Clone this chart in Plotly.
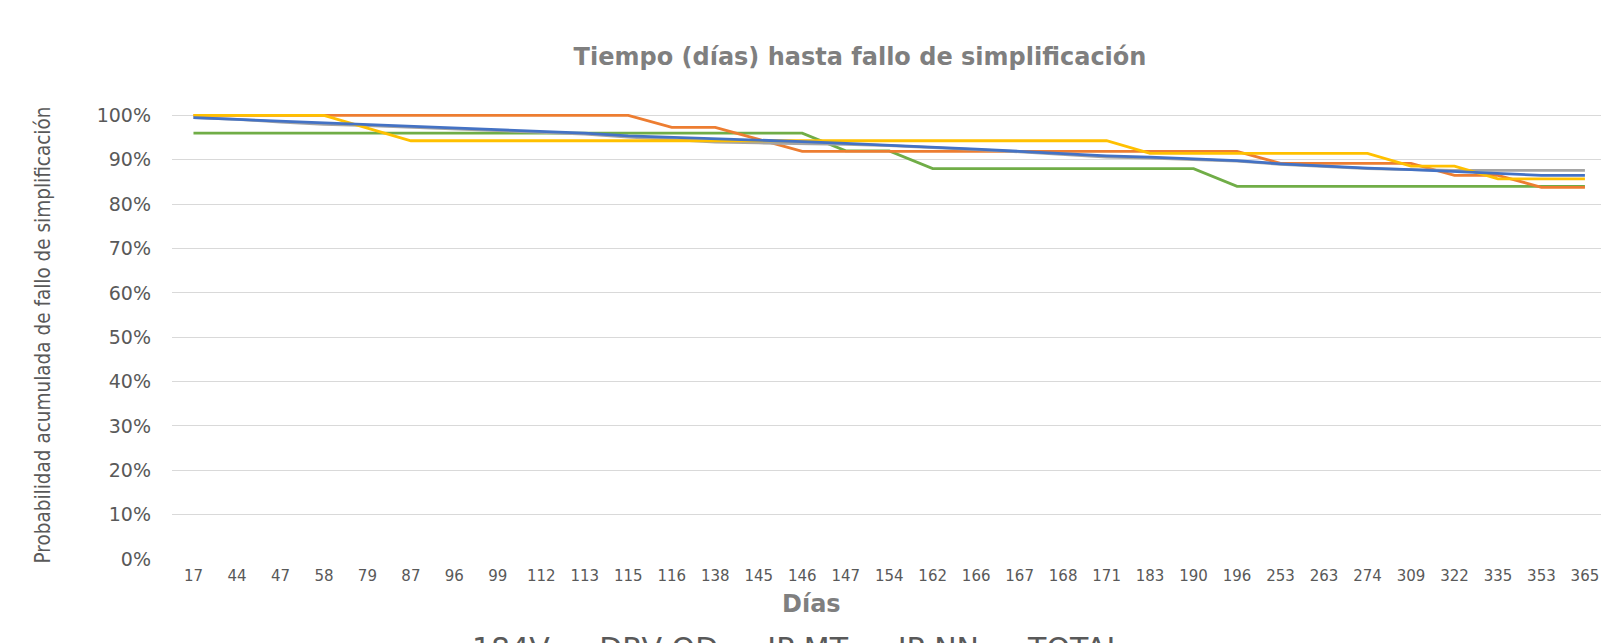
import plotly.graph_objects as go

dias = ["17", "44", "47", "58", "79", "87", "96", "99", "112", "113", "115", "116",
        "138", "145", "146", "147", "154", "162", "166", "167", "168", "171", "183",
        "190", "196", "253", "263", "274", "309", "322", "335", "353", "365"]

v184 = [0.96] * 15 + [0.92] * 2 + [0.88] * 7 + [0.84] * 9

drv_qd = [1.0] * 11 + [0.973, 0.973, 0.946] + [0.919] * 11 + [0.892] * 4 + [0.865] * 2 + [0.838] * 2

ip_mt = [0.995, 0.991, 0.985, 0.980, 0.977, 0.973, 0.970, 0.966, 0.962, 0.958, 0.951,
         0.946, 0.940, 0.938, 0.937, 0.935, 0.932, 0.928, 0.923, 0.918, 0.912, 0.906,
         0.904, 0.900, 0.897, 0.890, 0.885, 0.880, 0.878, 0.876, 0.876, 0.876, 0.876]

ip_nn = [1.0] * 4 + [0.9714] + [0.9429] * 17 + [0.9143] * 6 + [0.8857] * 2 + [0.8571] * 3

total = [0.995, 0.991, 0.987, 0.983, 0.979, 0.976, 0.972, 0.968, 0.964, 0.960, 0.954,
         0.951, 0.948, 0.945, 0.941, 0.937, 0.933, 0.929, 0.924, 0.919, 0.914, 0.909,
         0.906, 0.902, 0.898, 0.891, 0.886, 0.881, 0.878, 0.874, 0.870, 0.865, 0.865]

series = [
    ("184V", v184, "#70AD47"),
    ("DRV QD", drv_qd, "#ED7D31"),
    ("IP MT", ip_mt, "#A5A5A5"),
    ("IP NN", ip_nn, "#FFC000"),
    ("TOTAL", total, "#4472C4"),
]

fig = go.Figure()
for name, vals, color in series:
    fig.add_trace(go.Scatter(x=dias, y=vals, mode="lines", name=name,
                             line=dict(color=color, width=2.8)))

W, H = 1601, 643
L, R, T, B = 172, 0, 111, 84

fig.update_layout(
    width=W, height=H,
    margin=dict(l=L, r=R, t=T, b=B, autoexpand=False),
    paper_bgcolor="white", plot_bgcolor="white",
    font=dict(family="DejaVu Sans", color="#595959"),
    title=dict(text="<b>Tiempo (días) hasta fallo de simplificación</b>",
               x=860 / W, xref="container", xanchor="center",
               y=1 - 57 / H, yref="container", yanchor="middle",
               font=dict(family="DejaVu Sans", size=24, color="#7F7F7F")),
    showlegend=True,
    legend=dict(orientation="h", x=(428 - L) / (W - L - R), xanchor="left",
                y=(643 - B - 647) / (H - T - B), yanchor="middle",
                font=dict(size=30, color="#595959"), bgcolor="rgba(0,0,0,0)",
                itemwidth=34, traceorder="normal"),
    xaxis=dict(type="category", categoryorder="array", categoryarray=dias,
               range=[-0.494, 32.37], showgrid=False, zeroline=False,
               showline=False, ticks="", ticklabelstandoff=6,
               tickfont=dict(size=15, color="#595959")),
    yaxis=dict(range=[0, 1.01], tickvals=[i / 10 for i in range(11)],
               tickformat=".0%", showgrid=True, gridcolor="#D9D9D9", gridwidth=1,
               zeroline=False, showline=False, ticks="", ticklabelstandoff=20,
               tickfont=dict(size=19, color="#595959"),
               title=dict(text="Probabilidad acumulada de fallo de simplificación",
                          standoff=40,
                          font=dict(family="DejaVu Sans Condensed, DejaVu Sans",
                                    size=20.5, color="#595959"))),
    annotations=[dict(text="<b>Días</b>", xref="paper", yref="paper",
                      x=(811 - L) / (W - L - R), y=(643 - B - 604) / (H - T - B),
                      xanchor="center", yanchor="middle", showarrow=False,
                      font=dict(family="DejaVu Sans", size=24, color="#7F7F7F"))],
)

fig.write_html("out.html", config={"displayModeBar": False},
               post_script="document.body.style.margin='0';document.body.style.overflow='hidden';")
